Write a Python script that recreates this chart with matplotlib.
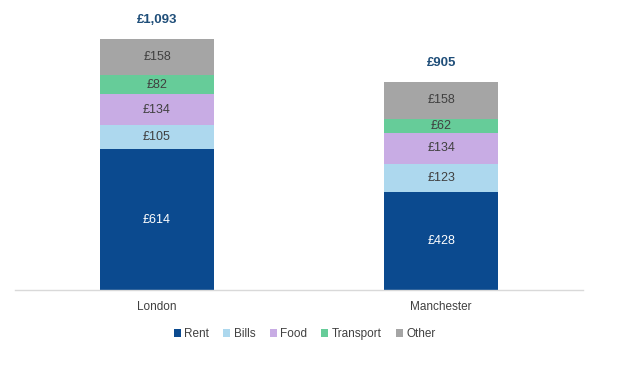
import matplotlib
matplotlib.use("Agg")
import matplotlib.pyplot as plt
import numpy as np

cities = ["London", "Manchester"]
series = ["Rent", "Bills", "Food", "Transport", "Other"]
rent = [614, 428]
bills = [105, 123]
food = [134, 134]
transport = [82, 62]
other = [158, 158]
values = [rent, bills, food, transport, other]
colors = ["#0B4A8F", "#ADD8EE", "#C8ACE4", "#66CC99", "#A5A5A5"]
label_colors = ["white", "#404040", "#404040", "#404040", "#404040"]

plt.rcParams['font.family'] = ['Liberation Sans', 'DejaVu Sans']
fig = plt.figure(figsize=(6.25, 3.91), dpi=100)
ax = fig.add_axes([0.024, 0.258, 0.909, 0.705])

x = np.arange(len(cities))
bottom = np.zeros(len(cities))
for name, vals, col, lc in zip(series, values, colors, label_colors):
    vals = np.array(vals, dtype=float)
    bars = ax.bar(x, vals, 0.4, bottom=bottom, color=col, label=name, zorder=2)
    for xi, b, v in zip(x, bottom, vals):
        ax.text(xi, b + v / 2, f"£{int(v)}", ha="center", va="center",
                fontsize=9, color=lc, zorder=3)
    bottom += vals

for xi, t in zip(x, bottom):
    ax.text(xi, t + 82, f"£{int(t):,}", ha="center", va="center",
            fontsize=9.5, fontweight="bold", color="#1F4E79")

ax.set_xlim(-0.5, 1.5)
ax.set_ylim(0, 1200)
ax.set_xticks(x)
ax.set_xticklabels(cities, fontsize=8.5, color="#404040")
ax.tick_params(axis="x", length=0, pad=8)
ax.set_yticks([])
for s in ["top", "right", "left"]:
    ax.spines[s].set_visible(False)
ax.spines["bottom"].set_color("#D9D9D9")
ax.spines["bottom"].set_linewidth(1)

leg = ax.legend(loc="upper center", bbox_to_anchor=(0.51, -0.1), ncol=5,
                frameon=False, fontsize=8.5, handlelength=0.6, handleheight=0.6,
                handletextpad=0.3, columnspacing=1.2, labelcolor="#404040")

fig.savefig("out.png", dpi=100)
